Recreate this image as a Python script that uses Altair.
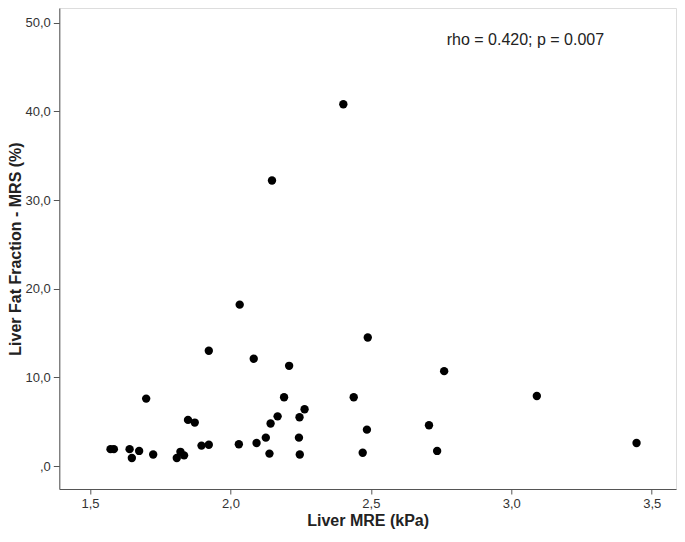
import altair as alt
import pandas as pd

# Liver MRE (kPa)
mre = [2.402, 2.148, 2.033, 2.489, 1.923, 2.083, 2.209, 2.761, 3.091, 2.439,
       2.191, 1.700, 2.264, 2.168, 2.246, 1.849, 1.873, 2.143, 2.707, 2.486,
       2.126, 2.244, 3.446, 2.093, 2.030, 1.923, 1.897, 1.573, 1.585, 1.641,
       1.675, 2.736, 1.822, 2.471, 2.139, 1.725, 2.247, 1.835, 1.649, 1.809]
# Liver Fat Fraction - MRS (%)
ff = [40.8, 32.2, 18.2, 14.5, 13.0, 12.1, 11.3, 10.7, 7.9, 7.75,
      7.75, 7.6, 6.4, 5.6, 5.5, 5.2, 4.9, 4.8, 4.6, 4.1,
      3.2, 3.2, 2.6, 2.6, 2.45, 2.4, 2.3, 1.9, 1.9, 1.9,
      1.7, 1.7, 1.6, 1.5, 1.4, 1.3, 1.3, 1.2, 0.9, 0.9]

x_ticks = [1.5, 2.0, 2.5, 3.0, 3.5]
y_ticks = [0, 10, 20, 30, 40, 50]
annotation = ["rho = 0.420; p = 0.007"]
annot_x = [2.770]
annot_y = [47.5]

df = pd.DataFrame({"mre": mre, "ff": ff})
df_annot = pd.DataFrame({"x": annot_x, "y": annot_y, "t": annotation})

FONT = "Liberation Sans"

xscale = alt.Scale(domain=[1.3907, 3.5865], nice=False, zero=False)
yscale = alt.Scale(domain=[-2.594, 51.66], nice=False, zero=False)

points = alt.Chart(df).mark_circle(size=70, opacity=1, color="#000000").encode(
    x=alt.X("mre:Q", scale=xscale,
            axis=alt.Axis(values=x_ticks, title="Liver MRE (kPa)", grid=False,
                          labelExpr="replace(format(datum.value, '.1f'), '.', ',')",
                          tickSize=5, labelPadding=3, labelFontSize=13,
                          labelColor="#333333", labelFont=FONT,
                          titleFont=FONT, titleFontSize=16, titleFontWeight="bold",
                          titleColor="#222222", titleBaseline="alphabetic",
                          titleY=36.5, domainColor="#555555", tickColor="#555555")),
    y=alt.Y("ff:Q", scale=yscale,
            axis=alt.Axis(values=y_ticks, title="Liver Fat Fraction - MRS (%)", grid=False,
                          labelExpr="datum.value == 0 ? ',0' : replace(format(datum.value, '.1f'), '.', ',')",
                          tickSize=6, labelPadding=3, labelFontSize=13,
                          labelColor="#333333", labelFont=FONT,
                          titleFont=FONT, titleFontSize=16, titleFontWeight="bold",
                          titleColor="#222222", titleBaseline="alphabetic",
                          titleX=-38.5, domainColor="#555555", tickColor="#555555")),
)

text = alt.Chart(df_annot).mark_text(align="left", baseline="alphabetic", font=FONT,
                                     fontSize=16, color="#222222").encode(
    x=alt.X("x:Q", scale=xscale),
    y=alt.Y("y:Q", scale=yscale),
    text="t:N",
)

chart = alt.layer(points, text).properties(
    width=616.7, height=481,
    autosize=alt.AutoSizeParams(type="none"),
    padding={"left": 51.3, "top": 0, "right": 1, "bottom": 40},
).configure_view(stroke="#555555", strokeWidth=1).configure(background="white")

chart.save("out.html", embed_options={"renderer": "svg", "actions": False})
